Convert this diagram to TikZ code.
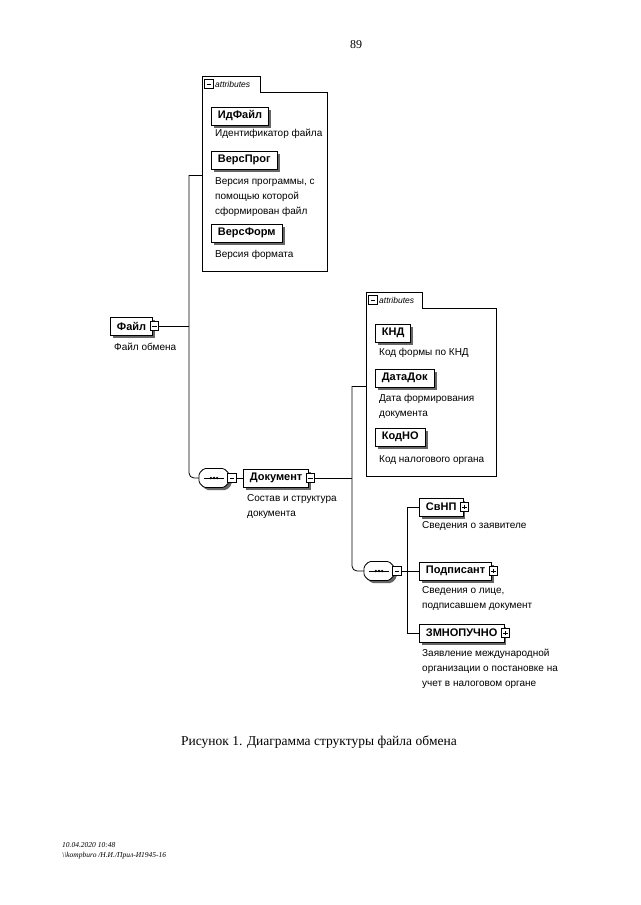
\documentclass[tikz,border=0pt]{standalone}
\usepackage{fontspec}
\setmainfont{Liberation Serif}
\setsansfont{Liberation Sans}
\usetikzlibrary{shadows}
\tikzset{
  elem/.style={draw, line width=0.8pt, fill=white, anchor=west,
    font=\sffamily\bfseries\fontsize{11}{12}\selectfont,
    inner xsep=6.5pt, inner ysep=0pt, minimum height=18pt,
    drop shadow={shadow xshift=2.5pt, shadow yshift=-2.5pt, fill=black!60, opacity=1}},
  desc/.style={font=\sffamily\fontsize{10}{15}\selectfont, align=left,
    anchor=north west, inner sep=0pt},
  tgl/.style={draw, fill=white, line width=0.6pt, minimum size=8.5pt, inner sep=0pt},
  tglminus/.style={tgl, path picture={\draw[line width=0.6pt]
      ([xshift=1.8pt]path picture bounding box.west) --
      ([xshift=-1.8pt]path picture bounding box.east);}},
  tglplus/.style={tgl, path picture={\draw[line width=0.6pt]
      ([xshift=1.8pt]path picture bounding box.west) --
      ([xshift=-1.8pt]path picture bounding box.east)
      ([yshift=-1.8pt]path picture bounding box.north) --
      ([yshift=1.8pt]path picture bounding box.south);}},
  conn/.style={line width=0.8pt},
  attrbox/.style={line width=0.8pt},
  attrlabel/.style={font=\sffamily\itshape\fontsize{8.5}{10}\selectfont, anchor=west, inner sep=0pt},
  seqhit/.style={inner sep=0pt, minimum width=30pt, minimum height=19pt},
}
\newcommand\seqsym[3]{%
  \node[seqhit] (#1) at (#2,#3) {};
  \begin{scope}[shift={(#2,#3)}]
    \fill[black!60, rounded corners=1.5pt] (-10+2.5,-9.5+2.5) -- (10+2.5,-9.5+2.5) -- (15+2.5,-4.5+2.5) -- (15+2.5,4.5+2.5)
      -- (10+2.5,9.5+2.5) -- (-10+2.5,9.5+2.5) -- (-15+2.5,4.5+2.5) -- (-15+2.5,-4.5+2.5) -- cycle;
    \draw[line width=0.8pt, fill=white, rounded corners=1.5pt] (-10,-9.5) -- (10,-9.5) -- (15,-4.5) -- (15,4.5)
      -- (10,9.5) -- (-10,9.5) -- (-15,4.5) -- (-15,-4.5) -- cycle;
    \draw[line width=0.9pt] (-10,0) -- (10,0);
    \fill (-3.2,0) circle (1.3) (0,0) circle (1.3) (3.2,0) circle (1.3);
  \end{scope}}
\begin{document}
\begin{tikzpicture}[x=1pt,y=-1pt]
\useasboundingbox (0,0) rectangle (640,905);
\fill[white] (0,0) rectangle (640,905);

% page number
\node[font=\fontsize{12}{14}\selectfont] (pagenum) at (356,45) {89};

% ---------- attributes box 1 ----------
\draw[attrbox] (202,271) -- (202,76) -- (260,76) -- (260,92) -- (327,92) -- (327,271) -- cycle;
\node[tglminus] (a1tgl) at (209,84) {};
\node[attrlabel] (a1lab) at (215,84) {attributes};
\coordinate (a1in) at (202,175);

\node[elem] (idfile) at (211,116) {ИдФайл};
\node[desc] (idfiled) at (215,129) {Идентификатор файла};
\node[elem] (versprog) at (211,160) {ВерсПрог};
\node[desc] (versprogd) at (215,177) {Версия программы, с\\помощью которой\\сформирован файл};
\node[elem] (versform) at (211,233) {ВерсФорм};
\node[desc] (versformd) at (215,250) {Версия формата};

% ---------- root ----------
\node[elem] (file) at (110,326) {Файл};
\node[tglminus] (filetgl) at ([xshift=1pt]file.east) {};
\node[desc] (filed) at (114,343) {Файл обмена};

\coordinate (v1top) at (189,175);
\coordinate (v1bot) at (189,478);
\draw[conn] (filetgl.east) -- (filetgl.east -| v1top);
\draw[conn] (a1in) -- (v1top);

% ---------- sequence 1 ----------
\seqsym{seq1}{214}{478}
\node[tglminus] (seq1tgl) at (232,478) {};
\draw[conn, rounded corners=5pt] (v1top) -- (v1bot) -- (seq1.west);

\node[elem] (doc) at (243,478) {Документ};
\node[tglminus] (doctgl) at ([xshift=1pt]doc.east) {};
\node[desc] (docd) at (247,494) {Состав и структура\\документа};
\draw[conn] (seq1tgl.east) -- (doc.west);

% ---------- attributes box 2 ----------
\draw[attrbox] (366,476) -- (366,292) -- (422,292) -- (422,308) -- (496,308) -- (496,476) -- cycle;
\node[tglminus] (a2tgl) at (373,300) {};
\node[attrlabel] (a2lab) at (379,300) {attributes};
\coordinate (a2in) at (366,386);

\node[elem] (knd) at (375,333) {КНД};
\node[desc] (kndd) at (379,348) {Код формы по КНД};
\node[elem] (datadok) at (375,378) {ДатаДок};
\node[desc] (datadokd) at (379,394) {Дата формирования\\документа};
\node[elem] (kodno) at (375,437) {КодНО};
\node[desc] (kodnod) at (379,455) {Код налогового органа};

\coordinate (v2top) at (352,386);
\coordinate (v2bot) at (352,571);
\draw[conn] (doctgl.east) -- (doctgl.east -| v2top);
\draw[conn] (a2in) -- (v2top);

% ---------- sequence 2 ----------
\seqsym{seq2}{379}{571}
\node[tglminus] (seq2tgl) at (397,571) {};
\draw[conn, rounded corners=5pt] (v2top) -- (v2bot) -- (seq2.west);

\coordinate (v3top) at (407,507);
\coordinate (v3bot) at (407,633);
\draw[conn] (seq2tgl.east) -- (seq2tgl.east -| v3top);

\node[elem] (svnp) at (419,507) {СвНП};
\node[tglplus] (svnptgl) at ([xshift=1pt]svnp.east) {};
\node[desc] (svnpd) at (422,521) {Сведения о заявителе};

\node[elem] (podp) at (419,571) {Подписант};
\node[tglplus] (podptgl) at ([xshift=1pt]podp.east) {};
\node[desc] (podpd) at (422,586) {Сведения о лице,\\подписавшем документ};

\node[elem] (zmno) at (419,633) {ЗМНОПУЧНО};
\node[tglplus] (zmnotgl) at ([xshift=1pt]zmno.east) {};
\node[desc] (zmnod) at (422,649) {Заявление международной\\организации о постановке на\\учет в налоговом органе};

\draw[conn] (svnp.west) -- (svnp.west -| v3top) -- (v3bot) -- (zmno.west);
\draw[conn] (podp.west) -- (podp.west -| v3top);

% ---------- caption and footer ----------
\node[font=\fontsize{13.5}{16}\selectfont] (caption) at (319,742) {Рисунок 1. Диаграмма структуры файла обмена};
\node[font=\itshape\fontsize{7.5}{10.5}\selectfont, align=left, anchor=north west, inner sep=0pt] (footer) at (62,842)
  {10.04.2020 10:48\\\textbackslash\textbackslash kompburo /Н.И./Прил-И1945-16};
\end{tikzpicture}
\end{document}
